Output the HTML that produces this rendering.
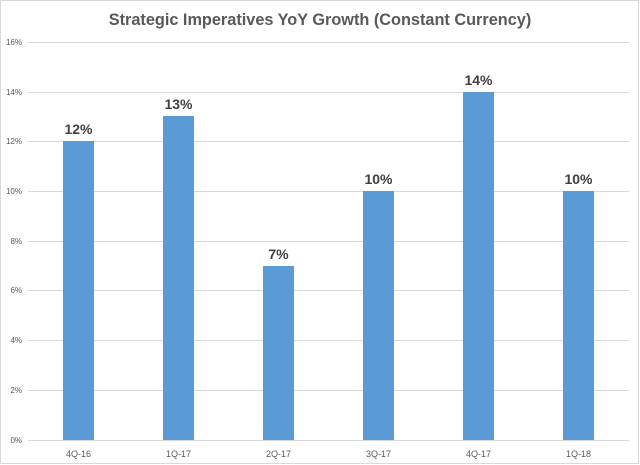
<!DOCTYPE html>
<html><head><style>
body{margin:0;background:#fff;}
svg{display:block;font-family:"Liberation Sans",sans-serif;}
</style></head><body>
<svg width="640" height="465" xmlns="http://www.w3.org/2000/svg">
<rect x="0.5" y="0.5" width="638" height="463" fill="#fff" stroke="#d9d9d9"/>
<text x="320" y="25" text-anchor="middle" font-size="16.3" font-weight="bold" fill="#595959">Strategic Imperatives YoY Growth (Constant Currency)</text>
<g stroke="#d9d9d9" stroke-width="1">
<line x1="28" x2="629" y1="42.5" y2="42.5"/>
<line x1="28" x2="629" y1="92.5" y2="92.5"/>
<line x1="28" x2="629" y1="141.5" y2="141.5"/>
<line x1="28" x2="629" y1="191.5" y2="191.5"/>
<line x1="28" x2="629" y1="241.5" y2="241.5"/>
<line x1="28" x2="629" y1="290.5" y2="290.5"/>
<line x1="28" x2="629" y1="340.5" y2="340.5"/>
<line x1="28" x2="629" y1="390.5" y2="390.5"/>
<line x1="28" x2="629" y1="440.5" y2="440.5"/>
</g>
<g font-size="8" fill="#595959" text-anchor="end">
<text x="22" y="45">16%</text><text x="22" y="95">14%</text><text x="22" y="144">12%</text>
<text x="22" y="194">10%</text><text x="22" y="244">8%</text><text x="22" y="293">6%</text>
<text x="22" y="343">4%</text><text x="22" y="393">2%</text><text x="22" y="443">0%</text>
</g>
<g fill="#5b9bd5">
<rect x="63" y="141" width="31" height="299"/>
<rect x="163" y="116" width="31" height="324"/>
<rect x="263" y="266" width="31" height="174"/>
<rect x="363" y="191" width="31" height="249"/>
<rect x="463" y="92" width="31" height="348"/>
<rect x="563" y="191" width="31" height="249"/>
</g>
<g font-size="14" font-weight="bold" fill="#404040" text-anchor="middle">
<text x="78.5" y="134">12%</text><text x="178.5" y="109">13%</text><text x="278.5" y="259">7%</text>
<text x="378.5" y="184">10%</text><text x="478.5" y="85">14%</text><text x="578.5" y="184">10%</text>
</g>
<g font-size="9" fill="#595959" text-anchor="middle">
<text x="78.5" y="457">4Q-16</text><text x="178.5" y="457">1Q-17</text><text x="278.5" y="457">2Q-17</text>
<text x="378.5" y="457">3Q-17</text><text x="478.5" y="457">4Q-17</text><text x="578.5" y="457">1Q-18</text>
</g>
</svg>
</body></html>
